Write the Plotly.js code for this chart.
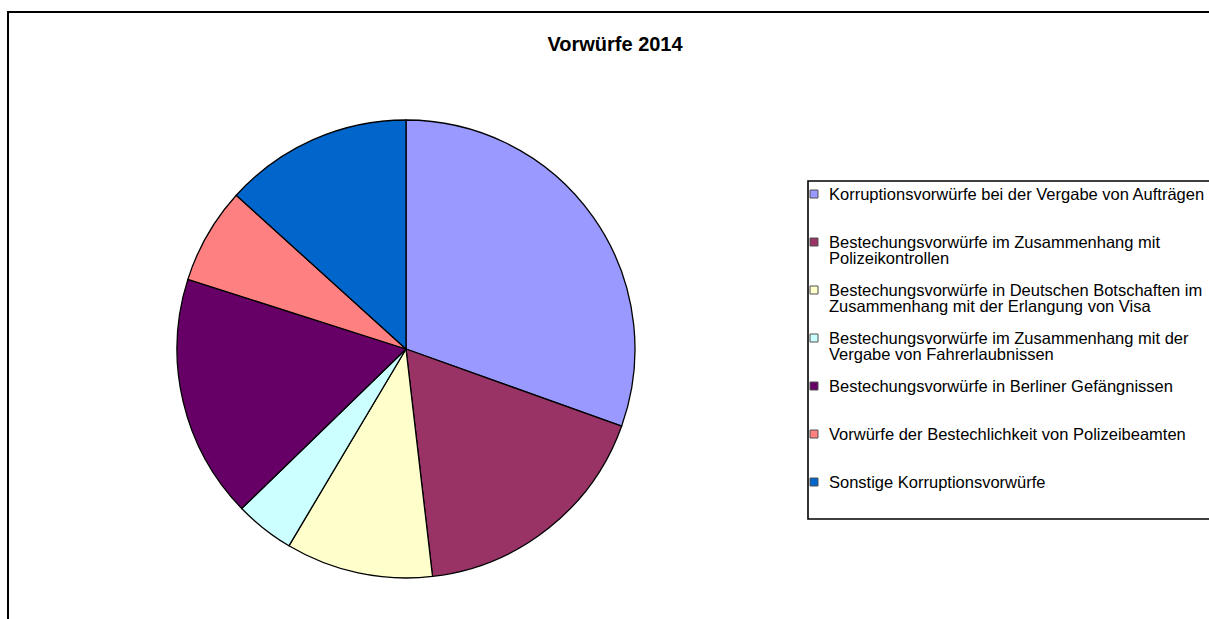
<!DOCTYPE html>
<html>
<head>
<meta charset="utf-8">
<script src="https://cdn.plot.ly/plotly-3.0.1.min.js"></script>
<style>html,body{margin:0;padding:0;background:#fff;}#chart{width:1209px;height:619px;}</style>
</head>
<body>
<div id="chart"></div>
<script>
var categories = [
  "Korruptionsvorwürfe bei der Vergabe von Aufträgen",
  "Bestechungsvorwürfe im Zusammenhang mit<br>Polizeikontrollen",
  "Bestechungsvorwürfe in Deutschen Botschaften im<br>Zusammenhang mit der Erlangung von Visa",
  "Bestechungsvorwürfe im Zusammenhang mit der<br>Vergabe von Fahrerlaubnissen",
  "Bestechungsvorwürfe in Berliner Gefängnissen",
  "Vorwürfe der Bestechlichkeit von Polizeibeamten",
  "Sonstige Korruptionsvorwürfe"
];
var values = [30.5, 17.7, 10.4, 4.2, 17.2, 6.8, 13.3];
var colors = ["#9999FF", "#993366", "#FFFFCC", "#CCFFFF", "#660066", "#FF8080", "#0066CC"];
var chartTitle = "Vorwürfe 2014";

var W = 1209, H = 619;
function px(x){ return x / W; }
function py(y){ return 1 - y / H; }

var FONT = "Liberation Sans, Arial, sans-serif";

var trace = {
  type: "pie",
  labels: categories.map(function(c){ return c.replace("<br>", " "); }),
  values: values,
  sort: false,
  direction: "clockwise",
  rotation: 0,
  textinfo: "none",
  hoverinfo: "label+value+percent",
  marker: { colors: colors, line: { color: "#000000", width: 1.3 } },
  domain: { x: [px(177), px(635)], y: [py(578), py(120)] },
  showlegend: false
};

var shapes = [];
var annotations = [];

// outer chart frame
shapes.push({ type: "rect", xref: "paper", yref: "paper",
  x0: px(8), x1: px(1215), y0: py(625), y1: py(12),
  line: { color: "#000000", width: 2 }, fillcolor: "rgba(0,0,0,0)" });

// legend box
shapes.push({ type: "rect", xref: "paper", yref: "paper",
  x0: px(808), x1: px(1215), y0: py(519), y1: py(181),
  line: { color: "#000000", width: 1.6 }, fillcolor: "rgba(0,0,0,0)" });

var legTop = 194, legStep = 48, lineStep = 16;
categories.forEach(function(cat, i){
  var yc = legTop + i * legStep;
  shapes.push({ type: "rect", xref: "paper", yref: "paper",
    x0: px(810), x1: px(818), y0: py(yc + 4), y1: py(yc - 4),
    line: { color: "#505050", width: 1 }, fillcolor: colors[i] });
  cat.split("<br>").forEach(function(line, j){
    annotations.push({ xref: "paper", yref: "paper",
      x: px(827), y: py(yc + j * lineStep), xanchor: "left", yanchor: "middle",
      text: line, showarrow: false,
      font: { family: FONT, size: 16.5, color: "#000000" } });
  });
});

var layout = {
  width: W, height: H,
  margin: { l: 0, r: 0, t: 0, b: 0 },
  paper_bgcolor: "#ffffff",
  plot_bgcolor: "#ffffff",
  title: { text: "<b>" + chartTitle + "</b>", x: px(615), y: py(44),
    xanchor: "center", yanchor: "middle", xref: "paper", yref: "paper",
    font: { family: FONT, size: 20, color: "#000000" } },
  shapes: shapes,
  annotations: annotations,
  showlegend: false
};

Plotly.newPlot("chart", [trace], layout, { displayModeBar: false, staticPlot: true });
</script>
</body>
</html>
